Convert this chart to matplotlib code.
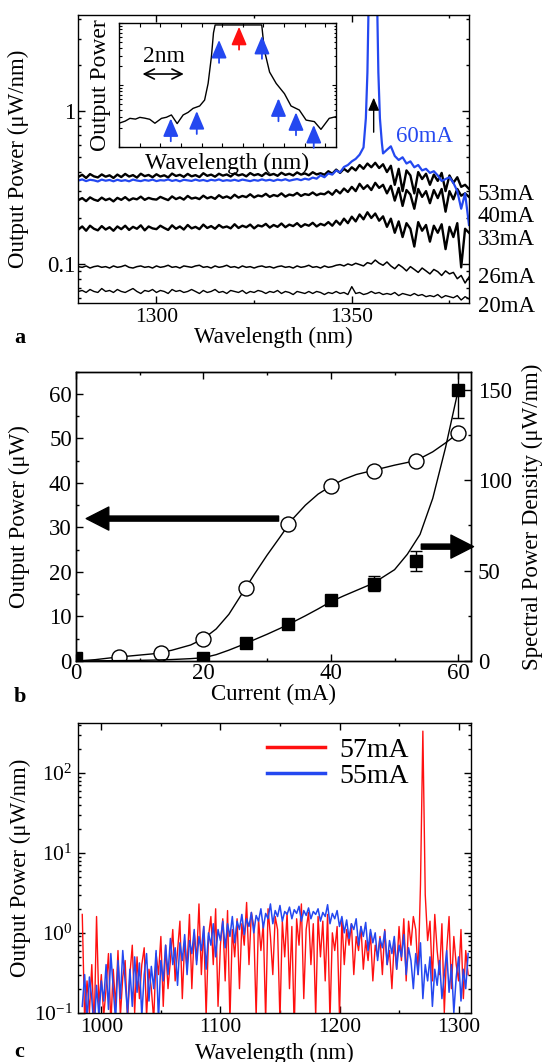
import numpy as np
import matplotlib
matplotlib.use('Agg')
import matplotlib.pyplot as plt
from matplotlib.ticker import MultipleLocator, FixedLocator, LogLocator, NullFormatter, FuncFormatter

plt.rcParams['font.family'] = ['Liberation Serif', 'DejaVu Serif']
plt.rcParams['mathtext.fontset'] = 'custom'
plt.rcParams['mathtext.rm'] = 'Liberation Serif'
plt.rcParams['mathtext.it'] = 'Liberation Serif:italic'
plt.rcParams['axes.linewidth'] = 1.0

BLUE = '#2448f0'
RED = '#ff1010'

# ---- (a) spectra at several currents, nW/nm on a 1 nm grid ----
wl_a = list(range(1280, 1381))
p20 = [66, 67, 65, 68, 66, 65, 69, 66, 67, 65,
       68, 66, 65, 67, 69, 66, 64, 67, 66, 68,
       65, 67, 66, 64, 68, 66, 67, 65, 66, 68,
       66, 64, 67, 65, 66, 68, 65, 66, 64, 67,
       66, 65, 67, 64, 66, 65, 67, 66, 64, 66,
       65, 67, 64, 66, 65, 63, 66, 65, 64, 66,
       64, 66, 65, 63, 65, 64, 66, 64, 65, 63,
       71, 64, 65, 63, 64, 66, 64, 65, 63, 64,
       63, 65, 62, 64, 63, 62, 64, 62, 63, 61,
       62, 61, 63, 60, 62, 61, 60, 62, 58, 61,
       59]
p26 = [96, 95, 97, 94, 96, 97, 95, 96, 94, 97,
       95, 96, 98, 95, 94, 96, 97, 95, 96, 94,
       97, 95, 96, 98, 95, 96, 94, 97, 96, 95,
       97, 98, 95, 96, 94, 97, 95, 96, 98, 95,
       96, 94, 97, 95, 96, 94, 96, 97, 95, 96,
       94, 96, 97, 95, 96, 94, 97, 95, 96, 98,
       95, 96, 94, 97, 95, 96, 98, 99, 97, 100,
       98, 101, 99, 97, 102, 100, 106, 101, 98, 103,
       97, 93, 99, 95, 90, 96, 92, 88, 94, 90,
       86, 92, 89, 84, 90, 86, 88, 80, 84, 75,
       82]
p33 = [168, 176, 165, 178, 170, 166, 177, 168, 174, 165,
       176, 169, 178, 167, 175, 170, 179, 166, 176, 171,
       169, 178, 172, 167, 179, 170, 176, 168, 180, 171,
       175, 169, 181, 172, 177, 170, 180, 173, 176, 171,
       182, 172, 178, 174, 181, 171, 179, 176, 183, 173,
       180, 175, 184, 174, 181, 177, 185, 175, 182, 178,
       186, 176, 183, 179, 188, 178, 192, 181, 198, 185,
       204, 190, 211, 196, 218, 200, 214, 192, 205, 175,
       198, 160, 190, 150, 185, 170, 130, 188, 165, 180,
       140, 178, 160, 182, 125, 175, 150, 185, 95, 170,
       160]
p40 = [262, 270, 258, 273, 264, 259, 272, 262, 268, 257,
       271, 263, 274, 261, 269, 265, 276, 263, 271, 266,
       264, 275, 268, 262, 277, 266, 273, 264, 279, 268,
       272, 266, 280, 269, 275, 267, 282, 271, 277, 269,
       284, 272, 279, 274, 286, 273, 281, 277, 288, 275,
       283, 278, 290, 276, 285, 281, 292, 279, 287, 283,
       294, 282, 289, 286, 298, 284, 305, 290, 312, 296,
       320, 300, 335, 310, 328, 305, 340, 315, 330, 290,
       325, 260, 315, 240, 305, 285, 230, 310, 275, 300,
       250, 305, 270, 310, 220, 300, 265, 310, 280, 290,
       275]
p53 = [372, 384, 366, 388, 375, 369, 386, 373, 381, 366,
       385, 371, 389, 374, 382, 368, 390, 376, 383, 370,
       387, 374, 381, 369, 391, 377, 384, 372, 389, 375,
       382, 371, 393, 378, 385, 373, 390, 379, 386, 374,
       392, 380, 387, 375, 394, 381, 388, 377, 395, 382,
       389, 378, 396, 383, 390, 380, 398, 385, 392, 381,
       399, 386, 393, 384, 405, 390, 415, 395, 420, 402,
       430, 410, 445, 420, 455, 430, 460, 425, 450, 400,
       440, 330, 420, 300, 410, 380, 290, 400, 360, 390,
       330, 385, 350, 395, 300, 380, 340, 370, 320, 330,
       310]
# 60 mA trace, finer sampling across the lasing line
wl_60 = (list(range(1280, 1353))
         + [1353.0, 1353.6, 1354.0, 1354.3, 1355.4, 1356.5, 1356.8, 1357.2, 1357.7]
         + list(range(1358, 1381)))
p60 = [352, 358, 349, 356, 353, 347, 357, 351, 355, 348,
       356, 350, 354, 348, 357, 352, 349, 355, 351, 357,
       349, 354, 352, 358, 350, 355, 348, 356, 353, 350,
       357, 351, 355, 349, 356, 352, 358, 350, 354, 351,
       356, 350, 357, 353, 349, 355, 351, 358, 352, 356,
       350, 357, 353, 359, 351, 356, 360, 354, 362, 357,
       368, 362, 381, 370, 392, 385, 410, 398, 432, 445,
       470, 488, 520,
       580, 900, 1800, 5000, 30000, 5000, 1800, 900, 620,
       530, 560, 590, 510, 480, 500, 455, 470, 430, 445,
       410, 420, 395, 405, 380, 350, 360, 370, 340, 300,
       230, 290, 180]
trace_labels = ['53mA', '40mA', '33mA', '26mA', '20mA']

# inset: zoom on the lasing line (relative nm, arb. units)
inset_nm = [0, 0.3, 0.53, 0.8, 1.01, 1.25, 1.49, 1.74, 2.06, 2.3, 2.54, 2.82,
            3.11, 3.35, 3.59, 3.91, 4.15, 4.32, 4.48, 4.58, 4.66, 6.92, 6.98,
            7.05, 7.3, 7.62, 8.02, 8.34, 8.74, 9.07, 9.47, 9.79, 10.19, 10.5]
inset_pw = [2.4, 2.6, 2.88, 2.8, 2.99, 2.9, 2.78, 2.4, 2.88, 3.0, 3.27, 2.37,
            3.27, 3.6, 4.18, 4.57, 5.7, 10.6, 28.8, 70, 94, 94, 60,
            36.3, 16.2, 10.6, 7.24, 4.57, 3.93, 2.7, 2.55, 1.91, 2.88, 3.06]
mode_nm = [2.51, 3.77, 4.85, 5.82, 6.93, 7.73, 8.58, 9.44]
mode_tip = [2.88, 3.78, 53.7, 87.9, 62.5, 6.08, 3.61, 2.25]
mode_col = [BLUE, BLUE, BLUE, RED, BLUE, BLUE, BLUE, BLUE]

# ---- (b) L-I and peak spectral density ----
cur_p = [6.7, 13.3, 20, 26.7, 33.3, 40, 46.7, 53.3, 60]
out_p = [0.95, 1.9, 5.0, 16.4, 30.7, 39.3, 42.8, 44.9, 51.2]
cur_s = [0, 20, 26.7, 33.3, 40, 46.7, 53.3, 60]
spd = [1.5, 1.5, 10.1, 20.2, 33.6, 42.8, 55.5, 150]
spd_err = [0, 0, 0, 0, 0, 4.1, 5.5, 15.4]
fit_cur = [0, 3, 6, 9, 12, 15, 18, 20, 22, 24, 26, 28, 30, 32, 34, 36, 38,
           40, 42, 44, 46, 48, 50, 52, 54, 56, 58, 60]
fit_out = [0, 0.3, 0.8, 1.2, 1.6, 2.4, 3.6, 5.0, 7.2, 10.5, 15.0, 19.5, 23.8,
           27.8, 31.9, 35.0, 37.5, 39.3, 40.8, 41.9, 42.6, 43.3, 44.0, 44.6,
           45.5, 47.0, 49.0, 51.2]
fit_spd = [0, 0.1, 0.2, 0.3, 0.5, 0.8, 1.3, 1.8, 3.5, 6.0, 8.8, 11.8, 14.8,
           18.0, 21.4, 25.0, 28.8, 32.8, 36.0, 39.0, 42.0, 46.0, 50.5, 59.0,
           70.0, 90.0, 118.0, 150.0]

# ---- (c) broadband spectra, nW/nm on a 2 nm grid ----
wl_c = list(range(984, 1310, 2))
p57 = [1700, 80, 250, 100, 400, 60, 1600, 120, 300, 90,
       200, 550, 70, 350, 120, 600, 90, 280, 450, 80,
       300, 700, 100, 500, 150, 400, 650, 90, 350, 200,
       80, 550, 300, 900, 120, 700, 200, 450, 1100, 250,
       600, 1400, 150, 800, 350, 1700, 200, 1000, 450, 2300,
       300, 1200, 90, 900, 1600, 400, 2000, 120, 700, 1500,
       250, 1900, 80, 1100, 500, 1500, 200, 1300, 700, 2400,
       400, 1800, 1200, 90, 1500, 600, 1300, 80, 2000, 900,
       300, 1600, 1100, 80, 1400, 500, 1800, 200, 1200, 60,
       1500, 700, 2300, 150, 1100, 1800, 400, 1300, 90, 1600,
       500, 1400, 250, 1700, 80, 1000, 600, 1200, 90, 1500,
       400, 1100, 700, 1300, 300, 900, 600, 1200, 350, 800,
       450, 1000, 250, 700, 500, 900, 300, 1100, 400, 600,
       200, 800, 350, 1200, 450, 1500, 250, 1400, 700, 1600,
       1100, 300, 4000, 335000, 3000, 800, 1400, 250, 1700, 600,
       300, 1300, 100, 600, 1600, 200, 900, 400, 250, 1100,
       150, 600, 300]
p55 = [120, 300, 80, 280, 150, 60, 220, 90, 250, 140,
       400, 110, 550, 200, 80, 450, 150, 600, 250, 100,
       350, 120, 500, 180, 420, 90, 300, 550, 140, 380,
       200, 600, 80, 450, 250, 700, 300, 850, 400, 650,
       220, 750, 450, 950, 300, 800, 550, 1100, 400, 900,
       600, 1200, 350, 1000, 700, 1300, 500, 1100, 800, 1400,
       650, 1300, 900, 1600, 750, 1400, 1100, 1700, 950, 1500,
       1200, 1800, 1000, 1650, 1400, 2000, 1150, 1750, 1500, 2300,
       1300, 1900, 1600, 2200, 1400, 1850, 1700, 2100, 1500, 1950,
       1750, 2150, 1400, 1900, 1650, 2050, 1500, 1850, 1700, 2000,
       1400, 1800, 1600, 2250, 1300, 1750, 1500, 1900, 1200, 1600,
       1000, 1450, 850, 1300, 1100, 1500, 700, 1200, 900, 1350,
       600, 1100, 750, 1000, 450, 850, 650, 1050, 400, 800,
       550, 900, 350, 700, 500, 950, 300, 650, 450, 200,
       550, 300, 750, 150, 400, 250, 500, 120, 350, 220,
       450, 150, 300, 600, 180, 400, 100, 280, 500, 140,
       350, 200, 550]

W, H = 542, 1062
fig = plt.figure(figsize=(W / 100, H / 100), dpi=100)


def add_axes_px(left, top, right, bottom):
    return fig.add_axes([left / W, 1 - bottom / H, (right - left) / W, (bottom - top) / H])


def style_ticks(ax, size, **kw):
    ax.tick_params(which='both', direction='in', labelsize=size, width=1.0, **kw)
    ax.tick_params(which='major', length=4.8)
    ax.tick_params(which='minor', length=2.5)


LBL = 16.5

# ================= (a) =================
ax_a = add_axes_px(78.3, 14.7, 469, 302.7)
for p, lw in ((p20, 1.0), (p26, 1.1), (p33, 1.7), (p40, 1.7), (p53, 1.7)):
    ax_a.plot(wl_a, np.array(p) / 1000, color='k', lw=lw)
ax_a.plot(wl_60, np.array(p60) / 1000, color=BLUE, lw=1.6)
ax_a.set_yscale('log')
ax_a.set_xlim(1280, 1380)
ax_a.set_ylim(0.0557, 4.3)
ax_a.yaxis.set_major_locator(FixedLocator([0.1, 1]))
ax_a.yaxis.set_major_formatter(FuncFormatter(lambda v, _: '%g' % v))
ax_a.yaxis.set_minor_locator(LogLocator(base=10, subs=np.arange(2, 10), numticks=20))
ax_a.yaxis.set_minor_formatter(NullFormatter())
ax_a.xaxis.set_major_locator(FixedLocator([1300, 1350]))
ax_a.xaxis.set_minor_locator(MultipleLocator(25))
style_ticks(ax_a, 15.5, top=True, right=True)
ax_a.tick_params(axis='y', labelsize=16.5, pad=2)
ax_a.set_xlabel('Wavelength (nm)', fontsize=LBL)
ax_a.xaxis.set_label_coords(0.5, -0.085)
ax_a.xaxis.label.set_va('top')
ax_a.set_ylabel('Output Power (\u03bcW/nm)', fontsize=LBL)
ax_a.yaxis.set_label_coords(-0.126, 0.5)

# lasing line marker
ax_a.annotate('', xy=(1355.6, 1.23), xytext=(1355.6, 0.73),
              arrowprops=dict(arrowstyle='-|>,head_length=0.7,head_width=0.3',
                              mutation_scale=11, color='k', lw=1.0,
                              shrinkA=0, shrinkB=0))
ax_a.text(0.887, 0.576, '60mA', color=BLUE, fontsize=16.5,
          ha='center', va='center', transform=ax_a.transAxes)
for lab, yy in zip(trace_labels, [0.374, 0.299, 0.218, 0.086, -0.014]):
    ax_a.text(1.023, yy, lab, fontsize=16.5, ha='left', va='center',
              transform=ax_a.transAxes)

# inset
ax_in = add_axes_px(119, 23.3, 335.6, 146.7)
ax_in.plot(inset_nm, inset_pw, color='k', lw=1.0)
ax_in.set_yscale('log')
ax_in.set_xlim(0, 10.5)
ax_in.set_ylim(1, 100)
ax_in.xaxis.set_major_locator(MultipleLocator(1))
ax_in.xaxis.set_major_formatter(NullFormatter())
ax_in.yaxis.set_major_formatter(NullFormatter())
ax_in.yaxis.set_minor_formatter(NullFormatter())
ax_in.tick_params(which='both', direction='in', top=True, right=True, width=0.8)
ax_in.tick_params(which='major', length=3)
ax_in.tick_params(which='minor', length=1.8)
ax_in.set_xlabel('Wavelength (nm)', fontsize=17, labelpad=1)
ax_in.set_ylabel('Output Power', fontsize=17, labelpad=2)
for x, tip, c in zip(mode_nm, mode_tip, mode_col):
    ax_in.annotate('', xy=(x, tip), xytext=(0, -16.5), textcoords='offset points',
                   annotation_clip=False,
                   arrowprops=dict(arrowstyle='-|>,head_length=0.85,head_width=0.36',
                                   mutation_scale=13, color=c, lw=1.3,
                                   shrinkA=0, shrinkB=0))
ax_in.annotate('', xy=(1.14, 0.589), xytext=(3.14, 0.589),
               xycoords=('data', 'axes fraction'),
               arrowprops=dict(arrowstyle='<->,head_length=0.6,head_width=0.3',
                               mutation_scale=12, color='k', lw=1.2,
                               shrinkA=0, shrinkB=0))
ax_in.text(2.17, 0.727, '2nm', fontsize=17, ha='center', va='center',
           transform=ax_in.get_xaxis_transform())

# ================= (b) =================
ax_b = add_axes_px(76, 371.7, 471, 661)
ax_b2 = ax_b.twinx()
ax_b.plot(fit_cur, fit_out, color='k', lw=1.0, zorder=2)
ax_b.plot(cur_p, out_p, 'o', ms=10.8, mfc='white', mec='k', mew=1.0, zorder=3)
ax_b2.plot(fit_cur, fit_spd, color='k', lw=1.0, zorder=2)
ax_b2.errorbar(cur_s, spd, yerr=spd_err, fmt='s', ms=9, color='k',
               ecolor='k', elinewidth=1.0, capsize=4.3, capthick=1.0, zorder=3)
ax_b.set_xlim(0, 62)
ax_b.set_ylim(0, 65)
ax_b2.set_ylim(0, 160)
ax_b.xaxis.set_major_locator(MultipleLocator(20))
ax_b.xaxis.set_minor_locator(MultipleLocator(10))
ax_b.yaxis.set_major_locator(MultipleLocator(10))
ax_b.yaxis.set_minor_locator(MultipleLocator(5))
ax_b2.yaxis.set_major_locator(MultipleLocator(50))
ax_b2.yaxis.set_minor_locator(MultipleLocator(25))
style_ticks(ax_b, 16.5, top=True, right=False)
style_ticks(ax_b2, 16.5, left=False, right=True)
ax_b.tick_params(axis='x', pad=1.5)
ax_b.tick_params(axis='y', pad=3)
ax_b2.tick_params(axis='y', pad=5)
ax_b.set_xlabel('Current (mA)', fontsize=LBL)
ax_b.xaxis.set_label_coords(0.5, -0.08)
ax_b.xaxis.label.set_va('top')
ax_b.set_ylabel('Output Power (\u03bcW)', fontsize=LBL)
ax_b.yaxis.set_label_coords(-0.116, 0.5)
ax_b2.set_ylabel('Spectral Power Density (\u03bcW/nm)', fontsize=LBL)
ax_b2.yaxis.set_label_coords(1.128, 0.5)

big = 'simple,head_length=0.98,head_width=1.0,tail_width=0.22'
ax_b.annotate('', xy=(1.6, 32), xytext=(31.8, 32),
              arrowprops=dict(arrowstyle=big, mutation_scale=16.6, color='k',
                              shrinkA=0, shrinkB=0))
ax_b.annotate('', xy=(62.4, 25.7), xytext=(54.2, 25.7), annotation_clip=False,
              arrowprops=dict(arrowstyle=big, mutation_scale=16.6, color='k',
                              shrinkA=0, shrinkB=0, clip_on=False))

# ================= (c) =================
ax_c = add_axes_px(77.5, 723.3, 470.5, 1012.7)
ax_c.plot(wl_c, np.array(p57) / 1000, color=RED, lw=1.0, label='57mA')
ax_c.plot(wl_c, np.array(p55) / 1000, color=BLUE, lw=1.1, label='55mA')
ax_c.set_yscale('log')
ax_c.set_xlim(980, 1310)
ax_c.set_ylim(0.1, 420)
ax_c.xaxis.set_major_locator(MultipleLocator(100))
ax_c.xaxis.set_minor_locator(MultipleLocator(50))
ax_c.yaxis.set_major_locator(LogLocator(base=10, numticks=10))
ax_c.yaxis.set_minor_locator(LogLocator(base=10, subs=np.arange(2, 10), numticks=20))
ax_c.yaxis.set_minor_formatter(NullFormatter())
style_ticks(ax_c, 15.5, top=True, right=True)
ax_c.set_xlabel('Wavelength (nm)', fontsize=LBL)
ax_c.xaxis.set_label_coords(0.5, -0.103)
ax_c.xaxis.label.set_va('top')
ax_c.set_ylabel('Output Power (\u03bcW/nm)', fontsize=LBL)
ax_c.yaxis.set_label_coords(-0.118, 0.5)
leg = ax_c.legend(loc='upper left', bbox_to_anchor=(0.482, 0.95), frameon=False,
                  fontsize=20, handlelength=2.1, handletextpad=0.5,
                  labelspacing=0.0, borderpad=0, borderaxespad=0)
for h in leg.get_lines():
    h.set_linewidth(2.5)

# panel letters
for letter, ypx in (('a', 338), ('b', 697), ('c', 1052)):
    fig.text(14 / W, 1 - ypx / H, letter, fontsize=16, fontweight='bold',
             ha='left', va='center')

fig.savefig('out.png', dpi=100)
